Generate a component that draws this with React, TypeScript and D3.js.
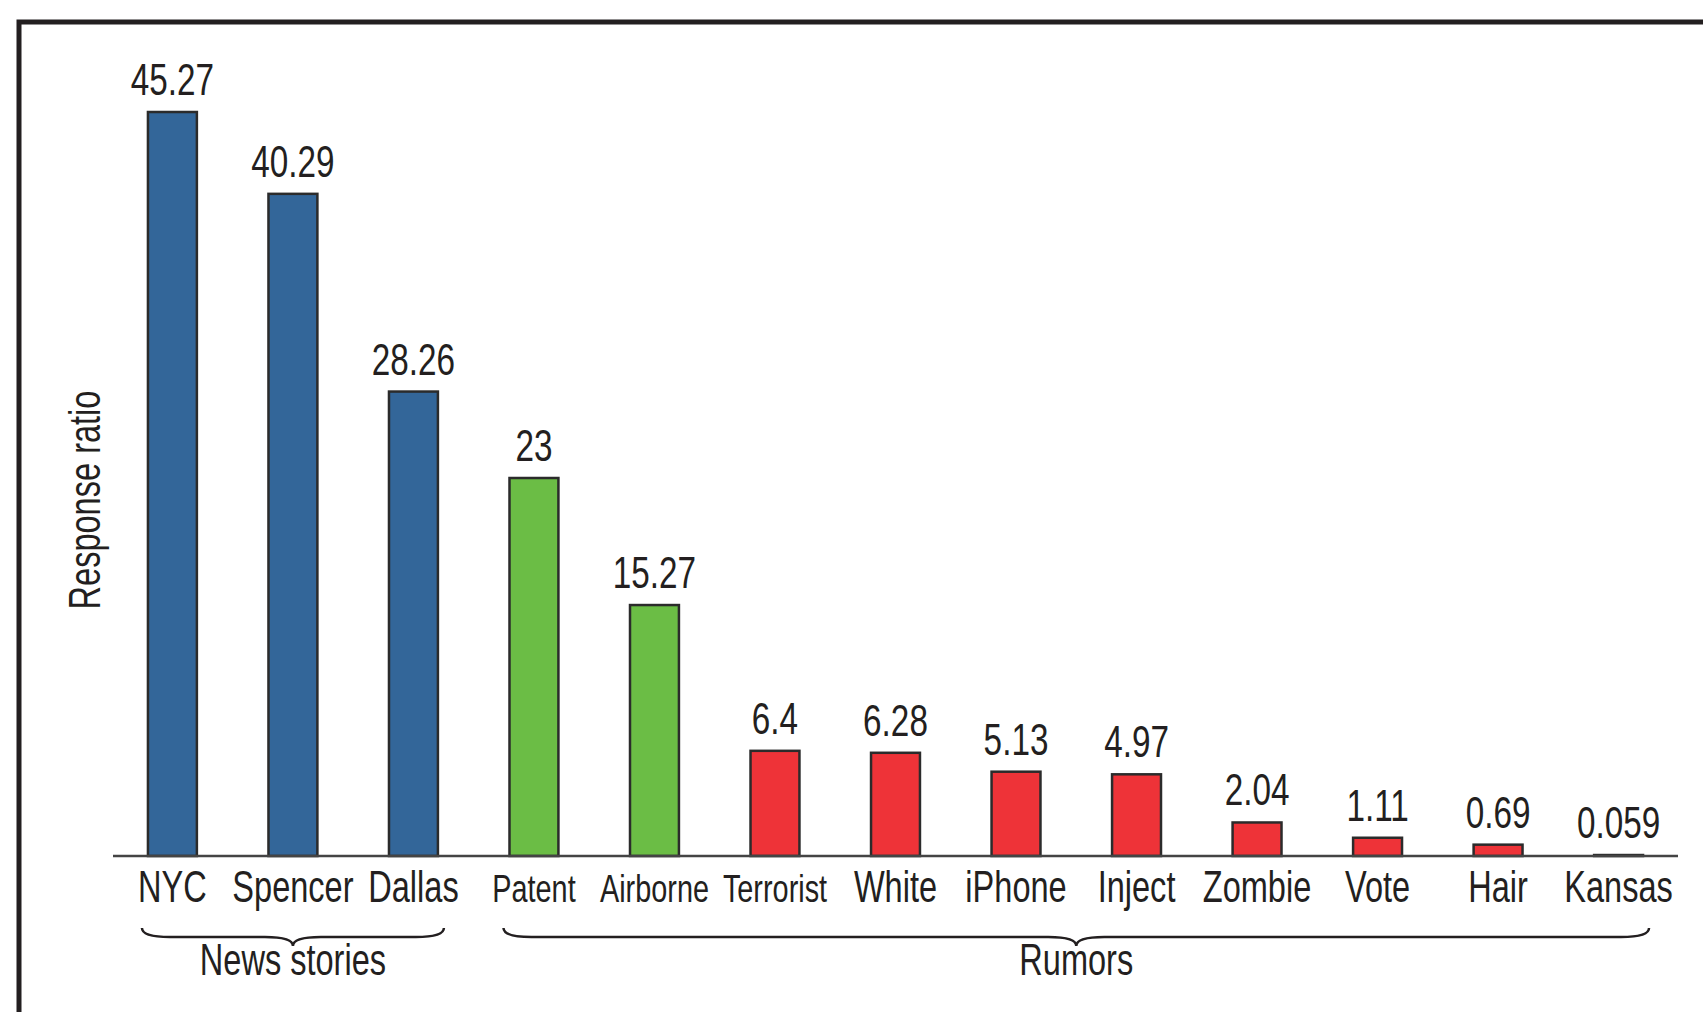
import React from "react";
import * as d3 from "d3";

const categories = ["NYC", "Spencer", "Dallas", "Patent", "Airborne", "Terrorist", "White", "iPhone", "Inject", "Zombie", "Vote", "Hair", "Kansas"];
const values = [45.27, 40.29, 28.26, 23, 15.27, 6.4, 6.28, 5.13, 4.97, 2.04, 1.11, 0.69, 0.059];
const kinds = ["news", "news", "news", "true", "true", "false", "false", "false", "false", "false", "false", "false", "false"];
const groups = [
  { label: "News stories", from: "NYC", to: "Dallas" },
  { label: "Rumors", from: "Patent", to: "Kansas" },
];
const smallLabels = ["Patent", "Airborne", "Terrorist"];
const yTitle = "Response ratio";

const colors: Record<string, string> = { news: "#336699", true: "#6bbd45", false: "#ee3338" };
const FONT = "'Liberation Sans', Arial, sans-serif";
const INK = "#231f20";
const SX = 0.74; // squeeze Arial-ish glyphs to look like a condensed face

// condensed text: horizontal squeeze around the anchor point
function CText({ x, y, size, rotate = 0, children }: { x: number; y: number; size: number; rotate?: number; children: React.ReactNode }) {
  return (
    <text
      transform={`translate(${x},${y}) rotate(${rotate}) scale(${SX},1)`}
      textAnchor="middle"
      fontSize={size}
      fill={INK}
    >
      {children}
    </text>
  );
}

export default function App() {
  const width = 1703;
  const height = 1012;
  const baseY = 856;

  const x = d3.scaleBand().domain(categories).range([113, 1678]).paddingInner(0.594).paddingOuter(0.29);
  const y = d3.scaleLinear().domain([0, d3.max(values) as number]).range([baseY, 112]);
  const cx = (c: string) => (x(c) as number) + x.bandwidth() / 2;

  // curly brace, ends up, tip pointing down
  const brace = (x1: number, x2: number) => {
    const y0 = 928, y1 = 937, y2 = 946, r = 28;
    const mid = (x1 + x2) / 2;
    return `M${x1},${y0} Q${x1},${y1} ${x1 + r},${y1} L${mid - r},${y1} Q${mid},${y1} ${mid},${y2} Q${mid},${y1} ${mid + r},${y1} L${x2 - r},${y1} Q${x2},${y1} ${x2},${y0}`;
  };

  return (
    <svg width={width} height={height} style={{ position: "absolute", left: 0, top: 0, background: "#fff" }} fontFamily={FONT}>
      <rect x={19} y={22} width={width} height={height} fill="none" stroke={INK} strokeWidth={5} />

      {categories.map((c, i) => (
        <g key={c}>
          <rect
            x={x(c)}
            y={y(values[i])}
            width={x.bandwidth()}
            height={baseY - y(values[i])}
            fill={colors[kinds[i]]}
            stroke="#2b2b2b"
            strokeWidth={2.5}
          />
          <CText x={cx(c)} y={y(values[i]) - 17} size={45}>
            {String(values[i])}
          </CText>
          <CText x={cx(c)} y={902} size={smallLabels.includes(c) ? 39 : 44}>
            {c}
          </CText>
        </g>
      ))}

      <line x1={113} x2={1678} y1={baseY} y2={baseY} stroke="#444" strokeWidth={2.5} />

      {groups.map((g) => {
        const x1 = (x(g.from) as number) - 6;
        const x2 = (x(g.to) as number) + x.bandwidth() + 6;
        return (
          <g key={g.label}>
            <path d={brace(x1, x2)} fill="none" stroke={INK} strokeWidth={2.5} />
            <CText x={(x1 + x2) / 2} y={975} size={44}>
              {g.label}
            </CText>
          </g>
        );
      })}

      <CText x={100} y={500} size={44} rotate={-90}>
        {yTitle}
      </CText>
    </svg>
  );
}
